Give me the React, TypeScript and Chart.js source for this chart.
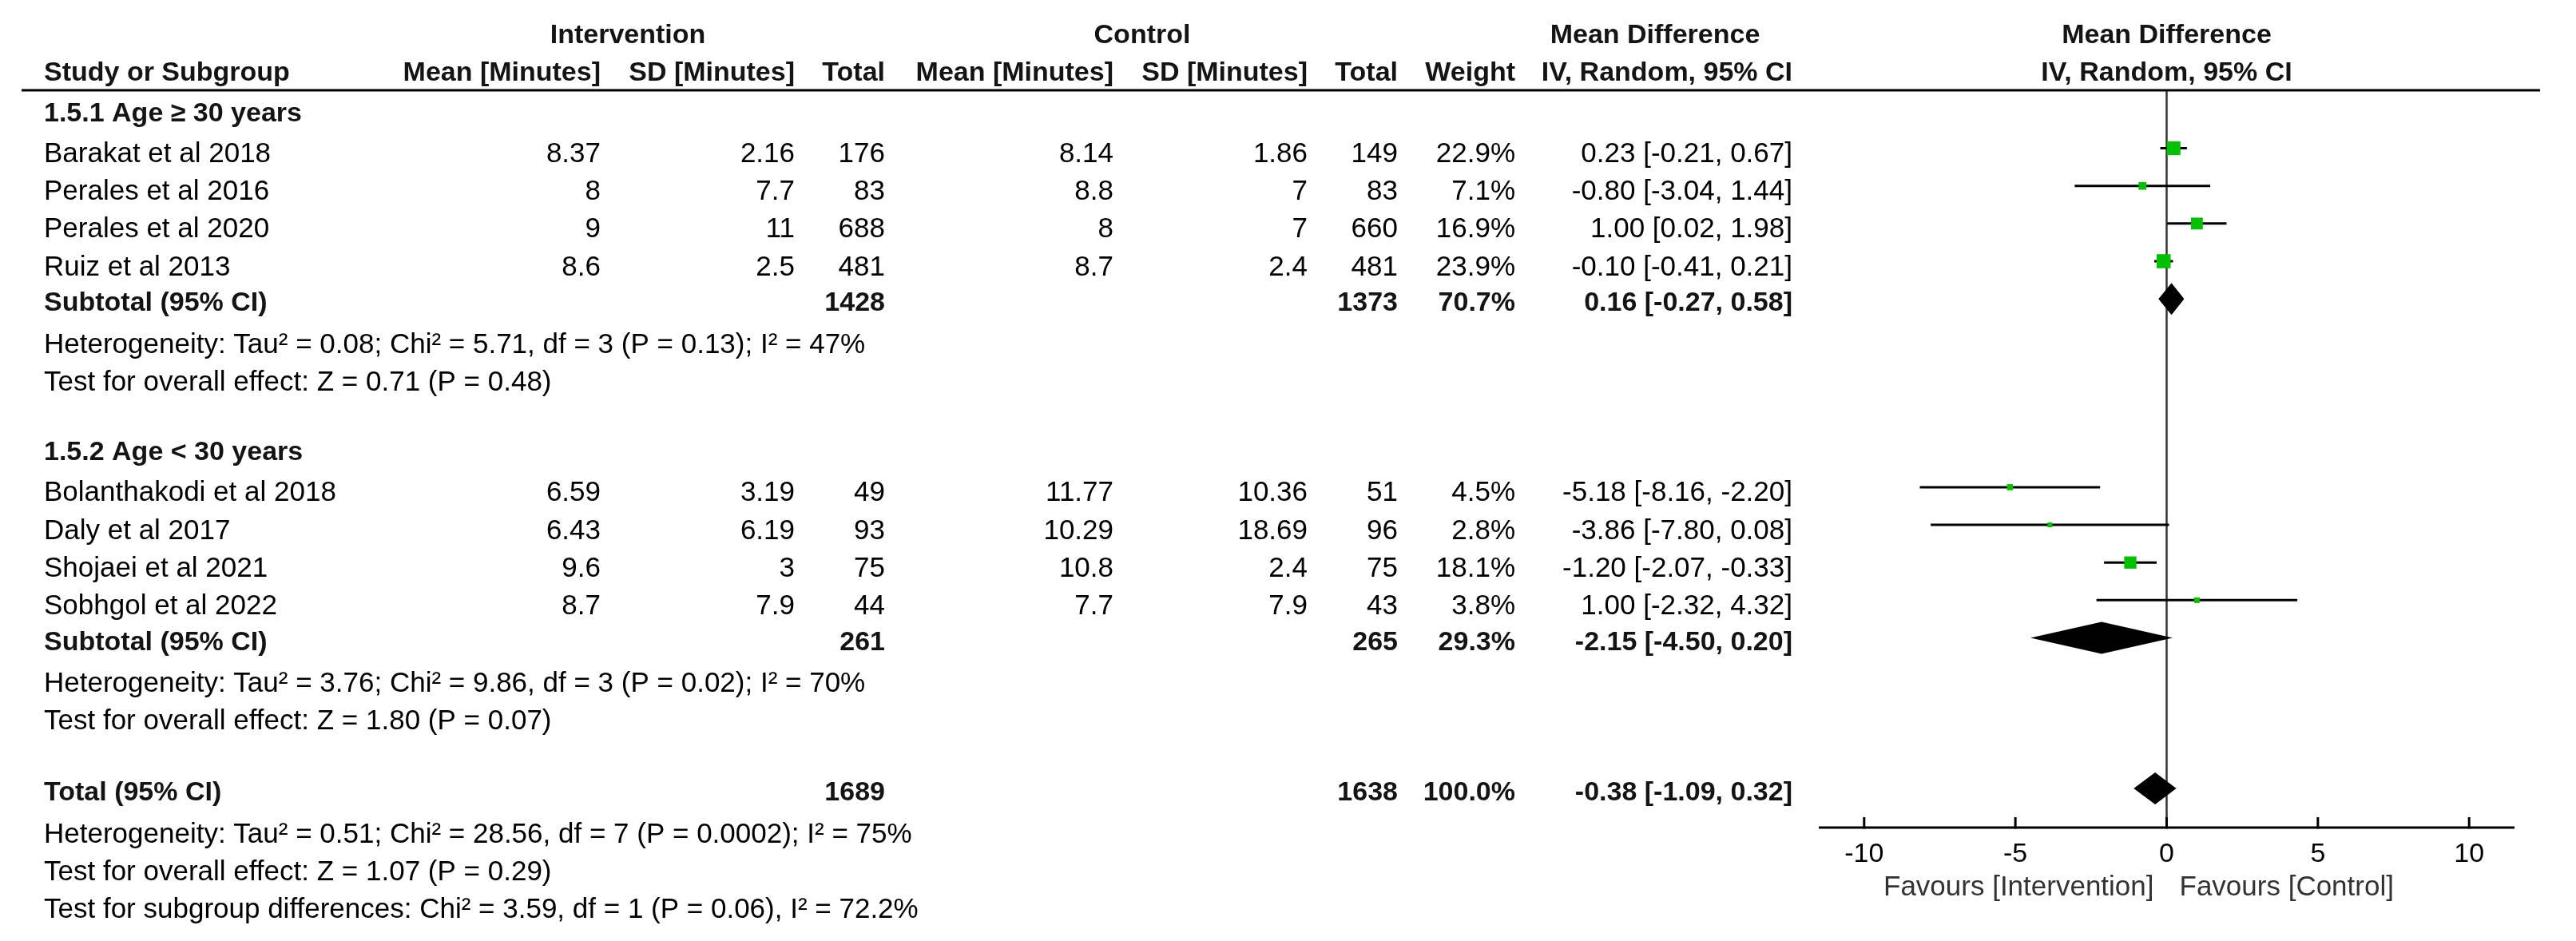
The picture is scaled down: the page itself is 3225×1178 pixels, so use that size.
import { useEffect, useRef } from 'react';
import { Chart, registerables } from 'chart.js';

Chart.register(...registerables);

// ---------------- DATA ----------------
const studies = [
  'Barakat et al 2018',
  'Perales et al 2016',
  'Perales et al 2020',
  'Ruiz et al 2013',
  'Bolanthakodi et al 2018',
  'Daly et al 2017',
  'Shojaei et al 2021',
  'Sobhgol et al 2022',
];
const studyGroup = [0, 0, 0, 0, 1, 1, 1, 1];
const intMean = ['8.37', '8', '9', '8.6', '6.59', '6.43', '9.6', '8.7'];
const intSD = ['2.16', '7.7', '11', '2.5', '3.19', '6.19', '3', '7.9'];
const intTotal = [176, 83, 688, 481, 49, 93, 75, 44];
const ctlMean = ['8.14', '8.8', '8', '8.7', '11.77', '10.29', '10.8', '7.7'];
const ctlSD = ['1.86', '7', '7', '2.4', '10.36', '18.69', '2.4', '7.9'];
const ctlTotal = [149, 83, 660, 481, 51, 96, 75, 43];
const weights = [22.9, 7.1, 16.9, 23.9, 4.5, 2.8, 18.1, 3.8];
const meanDiff = [0.23, -0.8, 1.0, -0.1, -5.18, -3.86, -1.2, 1.0];
const ciLow = [-0.21, -3.04, 0.02, -0.41, -8.16, -7.8, -2.07, -2.32];
const ciHigh = [0.67, 1.44, 1.98, 0.21, -2.2, 0.08, -0.33, 4.32];

const subgroupLabels = ['1.5.1 Age \u2265 30 years', '1.5.2 Age < 30 years'];
const subIntTotal = [1428, 261];
const subCtlTotal = [1373, 265];
const subWeight = [70.7, 29.3];
const subMD = [0.16, -2.15];
const subLow = [-0.27, -4.5];
const subHigh = [0.58, 0.2];
const subHeterogeneity = [
  'Heterogeneity: Tau\u00b2 = 0.08; Chi\u00b2 = 5.71, df = 3 (P = 0.13); I\u00b2 = 47%',
  'Heterogeneity: Tau\u00b2 = 3.76; Chi\u00b2 = 9.86, df = 3 (P = 0.02); I\u00b2 = 70%',
];
const subOverall = [
  'Test for overall effect: Z = 0.71 (P = 0.48)',
  'Test for overall effect: Z = 1.80 (P = 0.07)',
];

const totalIntN = 1689;
const totalCtlN = 1638;
const totalWeight = 100.0;
const totalMD = -0.38;
const totalLow = -1.09;
const totalHigh = 0.32;
const totalNotes = [
  'Heterogeneity: Tau\u00b2 = 0.51; Chi\u00b2 = 28.56, df = 7 (P = 0.0002); I\u00b2 = 75%',
  'Test for overall effect: Z = 1.07 (P = 0.29)',
  'Test for subgroup differences: Chi\u00b2 = 3.59, df = 1 (P = 0.06), I\u00b2 = 72.2%',
];

const xTicks = [-10, -5, 0, 5, 10];
const favoursLeft = 'Favours [Intervention]';
const favoursRight = 'Favours [Control]';

// ---------------- LAYOUT ----------------
const W = 3225;
const H = 1178;
const FONT = '"Liberation Sans", Arial, Helvetica, sans-serif';
const REG = 35;
const BOLD = 34;
const GROUP_ROW = [0, 9];
const TOTAL_ROW = 18;
const COL = {
  name: 55,
  intMean: 752,
  intSD: 995,
  intN: 1108,
  ctlMean: 1394,
  ctlSD: 1637,
  ctlN: 1750,
  weight: 1897,
  ci: 2244,
};
const DIAMOND_HALF = 0.424;
const GREEN = '#00c000';

function fmtCI(m: number, l: number, h: number) {
  return `${m.toFixed(2)} [${l.toFixed(2)}, ${h.toFixed(2)}]`;
}

function studyRow(i: number) {
  const g = studyGroup[i];
  let k = 0;
  for (let j = 0; j < i; j++) if (studyGroup[j] === g) k++;
  return GROUP_ROW[g] + 1 + k;
}
function subtotalRow(g: number) {
  const n = studyGroup.filter((s) => s === g).length;
  return GROUP_ROW[g] + 1 + n;
}

function text(
  ctx: CanvasRenderingContext2D,
  s: string,
  x: number,
  yCenter: number,
  align: CanvasTextAlign,
  bold = false,
  color = '#000',
  size?: number
) {
  const sz = size ?? (bold ? BOLD : REG);
  ctx.font = `${bold ? 'bold ' : ''}${sz}px ${FONT}`;
  ctx.fillStyle = bold ? '#141414' : color;
  ctx.textAlign = align;
  ctx.textBaseline = 'alphabetic';
  ctx.fillText(s, x, yCenter + sz * 0.358);
}

const forestPlugin = {
  id: 'forestPlot',
  beforeDatasetsDraw(chart: any) {
    const { ctx, chartArea, scales } = chart;
    const x0 = scales.x.getPixelForValue(0);
    ctx.save();
    ctx.strokeStyle = '#333';
    ctx.lineWidth = 2.5;
    ctx.beginPath();
    ctx.moveTo(x0, chartArea.top);
    ctx.lineTo(x0, chartArea.bottom);
    ctx.stroke();
    ctx.restore();
  },
  afterDatasetsDraw(chart: any) {
    const { ctx, chartArea, scales } = chart;
    const xs = scales.x;
    const ys = scales.y;
    const Y = (r: number) => ys.getPixelForValue(r);
    ctx.save();

    // diamonds
    const diamond = (m: number, l: number, h: number, r: number) => {
      ctx.beginPath();
      ctx.moveTo(xs.getPixelForValue(l), Y(r));
      ctx.lineTo(xs.getPixelForValue(m), Y(r - DIAMOND_HALF));
      ctx.lineTo(xs.getPixelForValue(h), Y(r));
      ctx.lineTo(xs.getPixelForValue(m), Y(r + DIAMOND_HALF));
      ctx.closePath();
      ctx.fillStyle = '#000';
      ctx.fill();
    };
    for (let g = 0; g < subgroupLabels.length; g++) {
      diamond(subMD[g], subLow[g], subHigh[g], subtotalRow(g));
    }
    diamond(totalMD, totalLow, totalHigh, TOTAL_ROW);

    // axis
    const ay = chartArea.bottom;
    ctx.strokeStyle = '#000';
    ctx.lineWidth = 3;
    ctx.beginPath();
    ctx.moveTo(chartArea.left, ay);
    ctx.lineTo(chartArea.right, ay);
    ctx.stroke();
    xTicks.forEach((t) => {
      const px = xs.getPixelForValue(t);
      ctx.beginPath();
      ctx.moveTo(px, ay + 1.5);
      ctx.lineTo(px, ay - 13);
      ctx.stroke();
      text(ctx, String(t), px, ay + 31, 'center', false, '#000', 34);
    });
    const x0 = xs.getPixelForValue(0);
    text(ctx, favoursLeft, x0 - 16, ay + 72, 'right', false, '#333', 35);
    text(ctx, favoursRight, x0 + 16, ay + 72, 'left', false, '#333', 35);

    // header line
    ctx.strokeStyle = '#000';
    ctx.lineWidth = 3;
    ctx.beginPath();
    ctx.moveTo(27, chartArea.top);
    ctx.lineTo(3180, chartArea.top);
    ctx.stroke();

    // headers
    const h1 = Y(-2.05);
    const h2 = Y(-1.06);
    text(ctx, 'Intervention', 786, h1, 'center', true);
    text(ctx, 'Control', 1430, h1, 'center', true);
    text(ctx, 'Mean Difference', 2072, h1, 'center', true);
    const pc = (chartArea.left + chartArea.right) / 2;
    text(ctx, 'Mean Difference', pc, h1, 'center', true);
    text(ctx, 'Study or Subgroup', COL.name, h2, 'left', true);
    text(ctx, 'Mean [Minutes]', COL.intMean, h2, 'right', true);
    text(ctx, 'SD [Minutes]', COL.intSD, h2, 'right', true);
    text(ctx, 'Total', COL.intN, h2, 'right', true);
    text(ctx, 'Mean [Minutes]', COL.ctlMean, h2, 'right', true);
    text(ctx, 'SD [Minutes]', COL.ctlSD, h2, 'right', true);
    text(ctx, 'Total', COL.ctlN, h2, 'right', true);
    text(ctx, 'Weight', COL.weight, h2, 'right', true);
    text(ctx, 'IV, Random, 95% CI', COL.ci, h2, 'right', true);
    text(ctx, 'IV, Random, 95% CI', pc, h2, 'center', true);

    // groups
    for (let g = 0; g < subgroupLabels.length; g++) {
      text(ctx, subgroupLabels[g], COL.name, Y(GROUP_ROW[g]) + 1, 'left', true);
      const sr = subtotalRow(g);
      const sy = Y(sr) + 3;
      text(ctx, 'Subtotal (95% CI)', COL.name, sy, 'left', true);
      text(ctx, String(subIntTotal[g]), COL.intN, sy, 'right', true);
      text(ctx, String(subCtlTotal[g]), COL.ctlN, sy, 'right', true);
      text(ctx, `${subWeight[g].toFixed(1)}%`, COL.weight, sy, 'right', true);
      text(ctx, fmtCI(subMD[g], subLow[g], subHigh[g]), COL.ci, sy, 'right', true);
      text(ctx, subHeterogeneity[g], COL.name, Y(sr + 1.17), 'left');
      text(ctx, subOverall[g], COL.name, Y(sr + 2.17), 'left');
    }

    // studies
    studies.forEach((s, i) => {
      const yy = Y(studyRow(i)) + 5;
      text(ctx, s, COL.name, yy, 'left');
      text(ctx, intMean[i], COL.intMean, yy, 'right');
      text(ctx, intSD[i], COL.intSD, yy, 'right');
      text(ctx, String(intTotal[i]), COL.intN, yy, 'right');
      text(ctx, ctlMean[i], COL.ctlMean, yy, 'right');
      text(ctx, ctlSD[i], COL.ctlSD, yy, 'right');
      text(ctx, String(ctlTotal[i]), COL.ctlN, yy, 'right');
      text(ctx, `${weights[i].toFixed(1)}%`, COL.weight, yy, 'right');
      text(ctx, fmtCI(meanDiff[i], ciLow[i], ciHigh[i]), COL.ci, yy, 'right');
    });

    // total
    const ty = Y(TOTAL_ROW) + 3;
    text(ctx, 'Total (95% CI)', COL.name, ty, 'left', true);
    text(ctx, String(totalIntN), COL.intN, ty, 'right', true);
    text(ctx, String(totalCtlN), COL.ctlN, ty, 'right', true);
    text(ctx, `${totalWeight.toFixed(1)}%`, COL.weight, ty, 'right', true);
    text(ctx, fmtCI(totalMD, totalLow, totalHigh), COL.ci, ty, 'right', true);
    totalNotes.forEach((n, k) => {
      text(ctx, n, COL.name, Y(TOTAL_ROW + 1.17 + k), 'left');
    });

    ctx.restore();
  },
};

export default function App() {
  const ref = useRef<HTMLCanvasElement | null>(null);
  useEffect(() => {
    document.body.style.margin = '0';
    document.body.style.overflow = 'hidden';
    const canvas = ref.current!;
    const ciSets = studies.map((s, i) => ({
      type: 'line' as const,
      label: s,
      data: [
        { x: ciLow[i], y: studyRow(i) },
        { x: ciHigh[i], y: studyRow(i) },
      ],
      borderColor: '#000',
      borderWidth: 3,
      pointRadius: 0,
      fill: false,
      tension: 0,
      borderCapStyle: 'butt' as const,
      order: 2,
    }));
    const squares = {
      type: 'scatter' as const,
      label: 'Study estimates',
      data: studies.map((_, i) => ({ x: meanDiff[i], y: studyRow(i) })),
      pointStyle: 'rect' as const,
      pointRadius: studies.map((_, i) => (3.6 * Math.sqrt(weights[i])) / Math.SQRT2),
      pointBackgroundColor: GREEN,
      pointBorderWidth: 0,
      borderWidth: 0,
      order: 1,
    };
    const chart = new Chart(canvas, {
      type: 'scatter',
      data: { datasets: [...ciSets, squares] as any },
      options: {
        responsive: false,
        animation: false,
        devicePixelRatio: 1,
        events: [],
        layout: { padding: { left: 2277, right: 77, top: 113, bottom: 142 } },
        plugins: { legend: { display: false }, tooltip: { enabled: false } },
        scales: {
          x: { type: 'linear', min: -11.5, max: 11.5, display: false },
          y: { type: 'linear', min: -0.539, max: 19.037, reverse: true, display: false },
        },
      },
      plugins: [forestPlugin],
    });
    return () => chart.destroy();
  }, []);
  return (
    <canvas
      ref={ref}
      width={W}
      height={H}
      style={{ display: 'block', width: W, height: H, background: '#fff' }}
    />
  );
}
